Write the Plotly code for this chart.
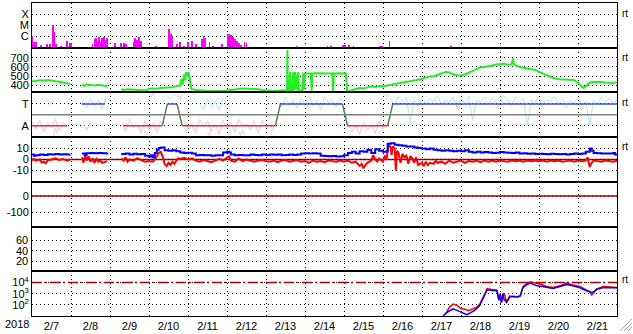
import pandas as pd
import plotly.graph_objects as go
from plotly.subplots import make_subplots

# ---------------- data (times are fractional day-of-February 2018) ----------------
day_labels = ["2/7", "2/8", "2/9", "2/10", "2/11", "2/12", "2/13", "2/14",
              "2/15", "2/16", "2/17", "2/18", "2/19", "2/20", "2/21"]
label_days = [7, 8, 9, 10, 11, 12, 13, 14, 15, 16, 17, 18, 19, 20, 21]

# X-ray flux (W/m2)
xray_t = [7.01, 7.05, 7.1, 7.23, 7.39, 7.46, 7.54, 7.58, 7.62, 7.74,
          7.9, 7.97, 8.0, 8.18, 8.25,
          8.55, 8.6, 8.64, 8.68, 8.72, 8.76, 8.8, 8.85, 8.88, 8.92,
          9.13, 9.29, 9.36, 9.41,
          9.6, 9.65, 9.7, 9.75, 9.8,
          10.18,
          10.52, 10.56, 10.6,
          10.72, 10.8, 10.9,
          11.0, 11.1, 11.2,
          11.35, 11.4, 11.43,
          11.55, 11.65,
          11.88,
          12.01, 12.05, 12.1, 12.15, 12.2, 12.25, 12.3, 12.35,
          12.45, 12.5,
          12.85,
          13.78,
          14.55, 14.58, 14.67,
          14.97, 15.02, 15.12, 15.24,
          15.92, 15.98,
          16.17,
          17.74,
          19.25]
xray_flux = [1.2e-6, 3e-7, 3e-7, 1.7e-7, 2e-7, 2e-7, 1e-5, 2.5e-6, 2e-7, 1.5e-7,
             4e-7, 2.5e-7, 2.5e-7, 1.2e-7, 1.2e-7,
             2e-7, 6e-7, 8e-7, 4e-7, 9e-7, 3e-7, 8e-7, 9e-7, 5e-7, 7e-7,
             2.6e-7, 2.5e-7, 2.5e-7, 2.2e-7,
             3e-7, 8e-7, 5e-7, 9e-7, 4e-7,
             1.3e-7,
             5e-6, 1.7e-6, 9e-7,
             2e-7, 3.5e-7, 1.5e-7,
             3e-7, 4e-7, 2e-7,
             6e-7, 1.1e-6, 7e-7,
             3e-7, 1.5e-7,
             2e-7,
             1.8e-6, 1.6e-6, 1.3e-6, 9e-7, 6e-7, 4e-7, 2.5e-7, 1.6e-7,
             3e-7, 2.5e-7,
             1.2e-7,
             1.5e-7,
             1.2e-7, 1.3e-7, 1.3e-7,
             1.9e-7, 1.9e-7, 1.9e-7, 1.4e-7,
             1.4e-7, 1.4e-7,
             4.3e-7,
             1.5e-7,
             1.15e-7]

# Solar wind speed (km/s)
speed_t = [7.0, 7.05, 7.1, 7.2, 7.3, 7.4, 7.5, 7.55, 7.6, 7.7, 7.8, 7.9, 7.98, 8.1,
           8.28, 8.35, 8.4, 8.5, 8.6, 8.7, 8.8, 8.9, 8.93, 9.1,
           9.29, 9.35, 9.45, 9.55, 9.65, 9.75, 9.85, 9.95, 10.0, 10.1, 10.2, 10.3, 10.4, 10.5,
           10.6, 10.7, 10.8, 10.83, 10.86, 10.9, 10.93, 10.95, 10.98, 11.02, 11.06, 11.08,
           11.2, 11.3, 11.4, 11.5, 11.6, 11.7, 11.8, 11.9, 12.0, 12.1, 12.2, 12.3, 12.4, 12.5,
           12.6, 12.7, 12.8, 12.9, 13.0, 13.1, 13.2, 13.3, 13.4, 13.5, 13.54, 13.55, 13.56,
           13.6, 13.62, 13.64, 13.68, 13.7, 13.72, 13.75, 13.78, 13.82, 13.84, 13.9, 13.93,
           13.96, 13.98, 14.0, 14.05, 14.1, 14.15, 14.17, 14.19, 14.3, 14.4, 14.5, 14.6, 14.7,
           14.72, 14.74, 14.85, 14.95, 15.05, 15.08, 15.1, 15.2, 15.3, 15.4, 15.5, 15.6, 15.7,
           15.8, 15.9, 16.0, 16.1, 16.2, 16.3, 16.4, 16.5, 16.6, 16.7, 16.8, 16.9, 17.0, 17.1,
           17.2, 17.3, 17.4, 17.5, 17.6, 17.7, 17.8, 17.9, 18.0, 18.1, 18.2, 18.3, 18.4, 18.5,
           18.6, 18.7, 18.8, 18.9, 19.0, 19.1, 19.2, 19.3, 19.33, 19.36, 19.5, 19.6, 19.7, 19.8,
           19.9, 20.0, 20.1, 20.2, 20.3, 20.4, 20.5, 20.6, 20.7, 20.8, 20.9, 21.0, 21.1, 21.15,
           21.2, 21.3, 21.4, 21.5, 21.6, 21.7, 21.8, 21.9, 22.0]
speed_v = [445, 450, 448, 455, 452, 458, 455, 450, 445, 440, 430, 420, 415, None,
           405, 395, 410, 405, 400, 408, 402, 395, 392, None,
           360, 352, 358, 355, 350, 352, 348, 350, 365, 368, 365, 372, 374, 370,
           380, 395, 400, 470, 410, 520, 455, 545, 500, 540, 420, 365,
           350, 345, 342, 340, 338, 340, 338, 340, 345, 352, 360, 364, 366, 365,
           364, 362, 360, 352, 345, 344, 340, 342, 345, 348, 350, 785, 350,
           352, 545, 350, 350, 545, 350, 545, 348, 545, 352, 345, 350,
           540, 355, 530, 530, 532, 530, 340, 530, 532, 530, 530, 532, 530,
           335, 530, 532, 530, 530, 340, 338, 348, 362, 372, 368, 380, 390,
           385, 395, 392, 400, 405, 415, 420, 425, 432, 440, 450, 460, 470, 485,
           498, 500, 515, 530, 545, 540, 520, 510, 505, 520, 540, 555, 575, 595,
           600, 605, 615, 625, 630, 635, 620, 630, 690, 625, 600, 590, 585, 575,
           570, 545, 530, 510, 490, 475, 466, 465, 462, 466, 460, 430, 385, 375,
           395, 430, 440, 442, 438, 432, 430, 428, 435]

# IMF sector (T = +1, A = -1)
sector_t = [7.0, 7.9, 8.0, 8.28, 8.87, 9.0, 9.34, 10.34, 10.47, 10.72, 10.85,
            13.24, 13.37, 14.96, 15.09, 16.12, 16.25, 22.0]
sector_v = [-1, -1, None, 1, 1, None, -1, -1, 1, 1, -1, -1, 1, 1, -1, -1, 1, 1]

# scattered IMF angle points (cluster start day, values every 0.1 day)
cyan_start = [7.36, 8.3, 10.45, 11.3, 13.3, 16.2]
cyan_vals = [
    [1.6, 0.9, 1.4],
    [1.2, 0.6, 1.5, 0.8, 1.3, 0.5, 1.6],
    [1.8, 1.5, 1.9, 1.6],
    [1.0, 0.5, 1.4, 0.7, 1.2, 0.4, 1.5, 0.9],
    [1.3, 0.7, 1.6, 0.9, 1.4, 0.6, 1.5, 1.0, 1.7, 0.8, 1.3, 0.5, 1.6, 1.1, 1.4, 0.7, 1.5, 1.2],
    [1.5, 0.9, 1.7, 1.2, 1.6, -0.8, 1.4, 0.8, 1.6, 1.0, 1.5, 1.2, 1.8, 0.9, 1.4, 1.1, 1.6,
     0.7, 1.5, 1.0, 1.7, -0.5, 1.3, 1.2, 1.6, 0.9, 1.5, 1.1, 1.7, 1.0, 1.4, 0.8, 1.6, 1.2,
     1.5, -1.0, 1.3, 1.1, 1.6, 0.9, 1.4, 1.2, 1.7, 1.0, 1.5, 0.6, 1.3, 1.1, 1.6, 0.9, 1.2,
     -0.9, 1.4, 1.0, 1.6, 1.2, 1.5, 1.0, 1.4],
]
pink_start = [7.0, 8.3, 9.3, 10.9, 15.1]
pink_vals = [
    [-0.6, -1.3, -0.5, -1.6, -0.8, -1.2, -0.4, -1.5, -0.7, -1.1],
    [-0.5, -1.4, -0.7],
    [-0.7, -1.5, -0.4, -1.2, -0.9, -1.7, -0.5, -1.3, -0.8, -1.6, -0.6, -1.1],
    [-0.5, -1.3, -0.8, -1.7, -0.4, -1.1, -0.6, -1.5, -0.9, -1.8, -0.5, -1.2,
     -0.7, -1.6, -0.4, -1.0, -0.8, -1.4, -0.6, -1.7, -0.5, -1.2, -0.9, -1.5],
    [-0.8, -1.6, -1.0, -1.8, -0.7, -1.4, -0.9, -1.7, -0.6, -1.3, -1.0],
]
gray_start = [7.55, 10.0, 10.75, 11.5, 12.3, 13.2, 16.05, 19.0]
gray_vals = [
    [-1.9, -1.2, -1.8],
    [1.9, 1.6, 2.0, 1.5],
    [1.8, 1.4, 1.9],
    [-1.6, -1.9, -1.3],
    [-1.5, -1.9, -1.4, -1.8],
    [1.9, 1.5],
    [1.9, 1.6, 2.0],
    [1.9, 1.6, 1.8, 1.5],
]

# IMF Bt and Bz (nT)
bt_t = [7.0, 7.05, 7.1, 7.2, 7.3, 7.4, 7.5, 7.6, 7.7, 7.8, 7.9, 7.98, 8.1,
        8.28, 8.35, 8.4, 8.5, 8.6, 8.7, 8.8, 8.9, 8.93, 9.1,
        9.29, 9.4, 9.5, 9.6, 9.7, 9.8, 9.9, 10.0, 10.05, 10.1, 10.15, 10.2, 10.25, 10.3,
        10.4, 10.5, 10.6, 10.7, 10.8, 10.9, 11.0, 11.1, 11.2, 11.3, 11.4, 11.5, 11.6, 11.7,
        11.8, 11.9, 12.0, 12.05, 12.1, 12.2, 12.3, 12.4, 12.5, 12.6, 12.7, 12.8, 12.9, 13.0,
        13.1, 13.2, 13.3, 13.4, 13.5, 13.6, 13.7, 13.8, 13.9, 14.0, 14.1, 14.2, 14.3, 14.4,
        14.5, 14.6, 14.7, 14.8, 14.9, 15.0, 15.1, 15.2, 15.3, 15.4, 15.5, 15.6, 15.7, 15.8,
        15.9, 16.0, 16.1, 16.12, 16.2, 16.3, 16.4, 16.5, 16.6, 16.7, 16.8, 16.9, 17.0, 17.1,
        17.2, 17.3, 17.4, 17.5, 17.6, 17.7, 17.8, 17.9, 18.0, 18.1, 18.2, 18.3, 18.4, 18.5,
        18.6, 18.7, 18.8, 18.9, 19.0, 19.1, 19.2, 19.3, 19.4, 19.5, 19.6, 19.7, 19.8, 19.9,
        20.0, 20.1, 20.2, 20.3, 20.4, 20.5, 20.6, 20.7, 20.8, 20.9, 21.0, 21.1, 21.2, 21.3,
        21.35, 21.4, 21.5, 21.6, 21.7, 21.8, 21.9, 21.95, 22.0]
bt_v = [4.5, 3.5, 4, 4.5, 4.2, 4.8, 4.5, 5, 4.6, 4.8, 4.5, 4.6, None,
        5.5, 4, 5.8, 6, 5.7, 6, 5.8, 5.5, 4.5, None,
        5, 5.5, 4.5, 5.2, 4.8, 5, 3.5, 2.5, 4, 2, 6, 9, 10.5, 11,
        8.5, 8, 8.5, 7.5, 6.5, 6, 6.2, 5.5, 4, 4.2, 3.8, 4, 3.5, 3.8,
        4, 6.5, 7, 6.5, 4.5, 4, 4.2, 3.8, 4, 4.5, 4.2, 4, 4.5, 4.2,
        4.5, 4.3, 4.5, 4, 4.2, 4.5, 4.2, 4.5, 5.5, 5.8, 5.5, 5.8, 5.5, 3.5,
        3.2, 3, 3.2, 2.8, 3, 4, 6, 7, 5.5, 7.5, 7, 9, 6, 9.5,
        8, 7, 7.5, 14.5, 15, 13.5, 13, 12.5, 12, 12, 11, 10.5, 10, 9.5,
        10, 9, 8.5, 8, 8.5, 8, 7.5, 8, 7.5, 8.5, 7, 6.5, 7, 6.5,
        6.8, 6.5, 6, 6.2, 6.8, 6.5, 6.2, 6, 6.5, 5.5, 5.8, 5.2, 5.5, 5,
        5.2, 5, 4.8, 5.2, 5, 4.8, 5, 4.6, 5, 5.5, 5, 5.5, 7, 10,
        8, 6, 5.8, 5.5, 5.6, 5.5, 6, 4.5, 5]

bz_t = [7.0, 7.05, 7.1, 7.2, 7.25, 7.3, 7.35, 7.4, 7.5, 7.6, 7.7, 7.8, 7.9, 7.98, 8.1,
        8.28, 8.32, 8.36, 8.4, 8.45, 8.5, 8.55, 8.6, 8.65, 8.7, 8.75, 8.8, 8.85, 8.93, 9.1,
        9.29, 9.35, 9.4, 9.45, 9.5, 9.6, 9.7, 9.8, 9.9, 10.0, 10.05, 10.1, 10.2, 10.25, 10.3,
        10.35, 10.4, 10.45, 10.5, 10.55, 10.6, 10.65, 10.7, 10.75, 10.8, 10.9, 11.0, 11.1,
        11.2, 11.3, 11.4, 11.5, 11.6, 11.7, 11.8, 11.9, 12.0, 12.05, 12.1, 12.2, 12.3, 12.4,
        12.5, 12.6, 12.7, 12.8, 12.9, 13.0, 13.1, 13.2, 13.3, 13.4, 13.5, 13.6, 13.7, 13.8,
        13.9, 14.0, 14.1, 14.2, 14.3, 14.4, 14.5, 14.6, 14.7, 14.8, 14.9, 15.0, 15.1, 15.2,
        15.3, 15.4, 15.45, 15.5, 15.55, 15.6, 15.7, 15.75, 15.8, 15.85, 15.9, 16.0, 16.05,
        16.1, 16.12, 16.15, 16.2, 16.22, 16.25, 16.3, 16.33, 16.36, 16.4, 16.45, 16.5, 16.55,
        16.6, 16.65, 16.7, 16.75, 16.8, 16.85, 16.9, 17.0, 17.05, 17.1, 17.15, 17.2, 17.3,
        17.35, 17.4, 17.5, 17.6, 17.7, 17.8, 17.9, 18.0, 18.1, 18.2, 18.3, 18.4, 18.5, 18.6,
        18.7, 18.8, 18.9, 19.0, 19.1, 19.2, 19.3, 19.4, 19.5, 19.6, 19.7, 19.8, 19.9, 20.0,
        20.1, 20.2, 20.3, 20.4, 20.5, 20.6, 20.7, 20.8, 20.9, 21.0, 21.1, 21.2, 21.25, 21.3,
        21.35, 21.4, 21.5, 21.6, 21.7, 21.8, 21.9, 22.0]
bz_v = [-1, 0.5, -1, 0, -3, -2, -3.5, -1, 0, 1, -0.5, 0.5, -1, 0, None,
        2, -3, 4, -1, 3, -2, 1, -3, 0.5, -2, -1, -3, -2.5, -1.5, None,
        1, -1, 2, -2, 0, -1, 1, -0.5, -2, -1.5, -2, -2, 3, 6, 7,
        3, -4, -6, -3, -5, -2, -4, -1, 1, 0.5, 1.5, 0, 1,
        -1, -2, -0.5, -1.5, -2.5, -1, 0.5, -1, 1.5, 3, -1, -2, 1, -1.5,
        0, -1, -2, -1, -0.5, -1.5, -2, -1, -2.5, -1, -0.5, -2, -1, -0.5,
        -2, -1.5, -3, -1, -2, -1.5, -2.5, -1, -1.5, -2, -1, -2, -1, -3,
        -2, -6, -4, -8, -5, -3, -1, 4, 0, -2, 1, -2, 3,
        1, 10, 13, 11, 4, 12, 10, -10, 8, 6, -3, 5, 2,
        4, -4, 3, 1, -3, 2, -5, -3, -6, -2, -5, -3, -4,
        -1, -3, -2, -4, -1, -3, -2, -1, -3, -1.5, -2, -1, -2.5, -1,
        -2, -1, -2, -1, -1.5, -2, -1, -1.5, -1, -2, -1, -1.5, -1, -1.5,
        -1, -2, -1, -1.5, -1, -2, -1.5, -1, -2, -1, -1.5, -1, 2, -7,
        -3, -1, -1.5, -2, -1, -1.5, -2, -1]

# Electron flux (>2 MeV), two satellites
eblue_t = [17.54, 17.6, 17.7, 17.8, 17.9, 18.0, 18.1, 18.15, 18.25, 18.35, 18.48, 18.57,
           18.67, 18.75, 18.85, 18.92, 18.97, 19.0, 19.03, 19.07, 19.1, 19.17, 19.25, 19.35,
           19.45, 19.52, 19.59, 19.68, 19.77, 19.85, 19.95, 20.05, 20.2, 20.36, 20.54, 20.71,
           20.87, 21.05, 21.22, 21.3, 21.35, 21.42, 21.48, 21.65, 21.8, 22.0]
eblue_v = [10, 16, 28, 43, 32, 22, 15, 13, 20, 32, 85, 470,
           2200, 2000, 1800, 1800, 250, 800, 160, 1000, 320, 160, 500, 560,
           500, 630, 3500, 6300, 8700, 7000, 5000, 4500, 3500, 2950, 4400, 6600,
           5000, 3400, 1800, 1600, 1300, 1600, 2500, 3500, 3500, 3400]
ered_t = [17.6, 17.7, 17.8, 17.9, 18.0, 18.1, 18.2, 18.3, 18.4, 18.48, 18.57, 18.67,
          18.75, 18.85, 18.92, 18.97, 19.0, 19.05, 19.1, 19.17, 19.25, 19.35, 19.45, 19.52,
          19.59, 19.68, 19.77, 19.85, 19.95, 20.05, 20.2, 20.36, 20.54, 20.71, 20.87, 21.05,
          21.22, 21.3, 21.35, 21.42, 21.48, 21.65, 21.8, 22.0]
ered_v = [15, 60, 117, 90, 45, 40, 30, 40, 60, 110, 600, 2800,
          2500, 2000, 2000, 350, 1000, 180, 1100, 200, 600, 560, 520, 650,
          4000, 8000, 11500, 10000, 8700, 7000, 4400, 3500, 5000, 8700, 6000, 4400,
          2100, 1500, 750, 1400, 2600, 4400, 4000, 3500]

# y-axis ticks per panel
p2_ticks = [400, 500, 600, 700]
p4_ticks = [10, 0, -10]
p5_ticks = [0, -100]
p6_ticks = [20, 40, 60]

# ---------------- helpers ----------------
BASE = pd.Timestamp("2018-02-01")


def ts(days):
    return [BASE + pd.Timedelta(days=d - 1) for d in days]


def cloud(starts, groups, step=0.1):
    xs, ys = [], []
    for s, vals in zip(starts, groups):
        for i, v in enumerate(vals):
            xs.append(s + i * step)
            ys.append(v)
        xs.append(s + len(vals) * step)
        ys.append(None)
    return ts(xs), ys


FONT = "Liberation Sans, Arial, sans-serif"
TICKFONT = dict(family=FONT, size=11, color="black")
GRID = dict(gridcolor="black", griddash="1px,3px", gridwidth=1)

fig = make_subplots(rows=7, cols=1, shared_xaxes=True, vertical_spacing=0)

# panel 1: X-ray bars
fig.add_trace(go.Bar(x=ts(xray_t), y=xray_flux, width=1.6e6,
                     marker=dict(color="#ff00ff", line=dict(width=0))), row=1, col=1)

# panel 2: speed
fig.add_trace(go.Scatter(x=ts(speed_t), y=speed_v, mode="lines",
                         line=dict(color="#22ee22", width=2)), row=2, col=1)

# panel 3: clouds
gx, gy = cloud(gray_start, gray_vals, 0.05)
fig.add_trace(go.Scatter(x=gx, y=gy, mode="lines", line=dict(color="#d4d4d4", width=1)), row=3, col=1)
px_, py_ = cloud(pink_start, pink_vals)
fig.add_trace(go.Scatter(x=px_, y=py_, mode="lines", line=dict(color="#f6bcf2", width=1)), row=3, col=1)
cx, cy = cloud(cyan_start, cyan_vals)
fig.add_trace(go.Scatter(x=cx, y=cy, mode="lines", line=dict(color="#b0e8f8", width=1)), row=3, col=1)

# sector lines
seg = {"T": ([], []), "A": ([], []), "X": ([], [])}
for i in range(len(sector_t) - 1):
    a, b = sector_v[i], sector_v[i + 1]
    if a is None or b is None:
        continue
    key = "T" if (a == 1 and b == 1) else ("A" if (a == -1 and b == -1) else "X")
    seg[key][0].extend([sector_t[i], sector_t[i + 1], sector_t[i + 1]])
    seg[key][1].extend([a, b, None])
for key, col in (("X", "#4f8050"), ("A", "#e03030"), ("T", "#4848e0")):
    fig.add_trace(go.Scatter(x=ts(seg[key][0]), y=seg[key][1], mode="lines",
                             line=dict(color=col, width=1.5)), row=3, col=1)

# panel 4: Bt, Bz
fig.add_trace(go.Scatter(x=ts(bz_t), y=bz_v, mode="lines",
                         line=dict(color="#ff0000", width=2)), row=4, col=1)
fig.add_trace(go.Scatter(x=ts(bt_t), y=bt_v, mode="lines", line_shape="hv",
                         line=dict(color="#0000ff", width=2)), row=4, col=1)

# panels 5, 6: no data in this interval (placeholder traces keep the panels)
fig.add_trace(go.Scatter(x=ts([7, 22]), y=[None, None], mode="lines"), row=5, col=1)
fig.add_trace(go.Scatter(x=ts([7, 22]), y=[None, None], mode="lines"), row=6, col=1)

# panel 7: electron flux
fig.add_trace(go.Scatter(x=ts(ered_t), y=ered_v, mode="lines",
                         line=dict(color="#ff0000", width=1.5)), row=7, col=1)
fig.add_trace(go.Scatter(x=ts(eblue_t), y=eblue_v, mode="lines",
                         line=dict(color="#0000ff", width=1.5)), row=7, col=1)

# reference lines
fig.add_hline(y=0, row=3, col=1, line=dict(color="#808080", width=1.5), exclude_empty_subplots=False)
fig.add_hline(y=0, row=4, col=1, line=dict(color="#b00000", width=1.5), layer="below",
              exclude_empty_subplots=False)
fig.add_hline(y=0, row=5, col=1, line=dict(color="#b00000", width=1.5), exclude_empty_subplots=False)
fig.add_hline(y=1e4, row=7, col=1, line=dict(color="#b00000", width=1.5, dash="10px,3px,2px,3px"),
              exclude_empty_subplots=False)

# axes
noons = ts([d + 0.5 for d in label_days])
midnights = ts(list(range(8, 22)))
for r in range(1, 8):
    fig.update_xaxes(type="date", range=[ts([7])[0], ts([22])[0]],
                     showline=True, linecolor="black", linewidth=1, mirror=True,
                     showgrid=False, ticks="", tickmode="array", tickvals=noons,
                     ticktext=day_labels, tickfont=TICKFONT,
                     minor=dict(tickmode="array", tickvals=midnights, showgrid=True, ticks="", **GRID),
                     zeroline=False, row=r, col=1)
    fig.update_yaxes(showline=True, linecolor="black", linewidth=1, mirror=True,
                     showgrid=True, zeroline=False, ticks="", autorange=False,
                     tickfont=TICKFONT, row=r, col=1, **GRID)

fig.update_yaxes(type="log", range=[-7, -3], tickmode="array",
                 tickvals=[1e-6, 1e-5, 1e-4], ticktext=["C", "M", "X"], row=1, col=1)
fig.update_yaxes(type="linear", range=[325, 807], tickmode="array", tickvals=p2_ticks,
                 ticktext=[str(v) for v in p2_ticks], row=2, col=1)
fig.update_yaxes(type="linear", range=[-2.05, 2.05], tickmode="array", tickvals=[1, -1],
                 ticktext=["T", "A"], row=3, col=1)
fig.update_yaxes(type="linear", range=[-20.5, 20.5], tickmode="array", tickvals=p4_ticks,
                 ticktext=[str(v) for v in p4_ticks], row=4, col=1)
fig.update_yaxes(type="linear", range=[-187, 87], tickmode="array", tickvals=p5_ticks,
                 ticktext=[str(v) for v in p5_ticks], row=5, col=1)
# panel 6 labels are drawn as annotations (gridlines stay on the axis)
fig.update_yaxes(type="linear", range=[0, 87], tickmode="array", tickvals=p6_ticks,
                 showticklabels=False, row=6, col=1)
fig.update_yaxes(type="log", range=[1, 5], tickmode="array", tickvals=[1e2, 1e3, 1e4],
                 ticktext=["10<sup>2</sup>", "10<sup>3</sup>", "10<sup>4</sup>"], row=7, col=1)

# annotations
ann = [dict(text="2018", x=-0.026, y=-0.026, xref="paper", yref="paper",
            xanchor="center", yanchor="middle", showarrow=False, font=TICKFONT)]
for yy in (0.968, 0.825, 0.683, 0.543, 0.117):
    ann.append(dict(text="rt", x=1.0137, y=yy, xref="paper", yref="paper",
                    xanchor="center", yanchor="middle", showarrow=False,
                    font=dict(family=FONT, size=10, color="black")))
for v in p6_ticks:
    ann.append(dict(text=str(v), x=0, y=v, xref="paper", yref="y6",
                    xanchor="right", yanchor="middle", xshift=-2, showarrow=False,
                    font=TICKFONT))

shapes = list(fig.layout.shapes)
for (x0, y0, x1, y1) in ((620, 332, 632, 320), (624, 332, 632, 324), (628, 332, 632, 328)):
    shapes.append(dict(type="line", xref="paper", yref="paper",
                       x0=(x0 - 32) / 585, y0=(317 - y0) / 315,
                       x1=(x1 - 32) / 585, y1=(317 - y1) / 315,
                       line=dict(color="#a0a0a0", width=1)))

fig.update_layout(width=633, height=334, margin=dict(l=32, r=16, t=2, b=17, pad=0),
                  plot_bgcolor="white", paper_bgcolor="white", showlegend=False,
                  annotations=ann, shapes=shapes, bargap=0,
                  font=dict(family=FONT, color="black"))

fig.write_html("out.html")
